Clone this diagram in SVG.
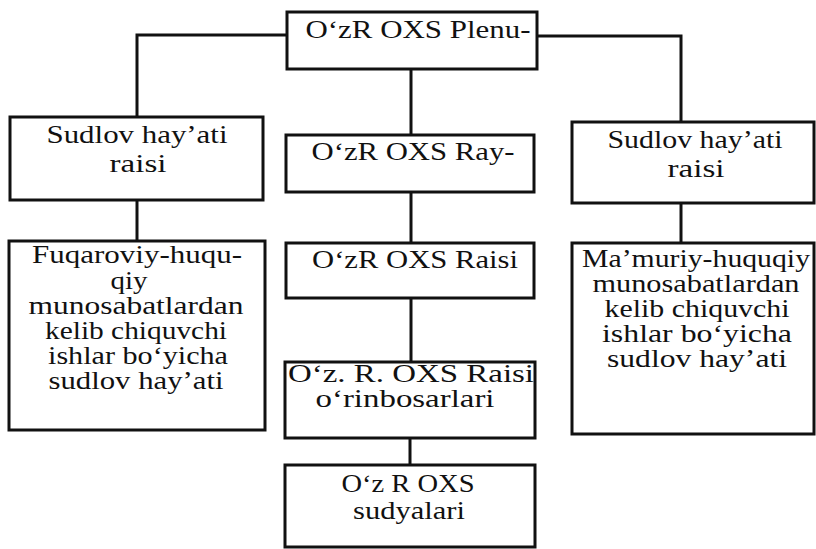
<svg xmlns="http://www.w3.org/2000/svg" width="816" height="549" viewBox="0 0 816 549">
<style>
.box{fill:#fff;stroke:#111;stroke-width:3}
.c{fill:none;stroke:#111;stroke-width:3}
.t{font-family:'Liberation Serif',serif;font-size:25px;fill:#111;text-anchor:middle}
</style>
<rect width="816" height="549" fill="#fff"/>
<g id="connectors">
<polyline class="c" points="287,35 137,35 137,117"/>
<polyline class="c" points="537,36 681,36 681,122"/>
<line class="c" x1="411" y1="69" x2="411" y2="135"/>
<line class="c" x1="411" y1="192" x2="411" y2="243"/>
<line class="c" x1="411" y1="298" x2="411" y2="362"/>
<line class="c" x1="410" y1="438" x2="410" y2="465"/>
<line class="c" x1="137" y1="200" x2="137" y2="241"/>
<line class="c" x1="681" y1="203" x2="681" y2="243"/>
</g>
<g class="t" font-family="Liberation Serif, serif">
<g id="plenum">
<rect class="box" x="287" y="12" width="250" height="57"/>
<text x="418" y="38" textLength="225" lengthAdjust="spacingAndGlyphs">O‘zR OXS Plenu-</text>
</g>
<g id="sudlov-left">
<rect class="box" x="10" y="117" width="253" height="83"/>
<text x="137" y="143" textLength="181" lengthAdjust="spacingAndGlyphs">Sudlov hay’ati</text>
<text x="138" y="172" textLength="57" lengthAdjust="spacingAndGlyphs">raisi</text>
</g>
<g id="rayosat">
<rect class="box" x="286" y="135" width="248" height="57"/>
<text x="413" y="160" textLength="203" lengthAdjust="spacingAndGlyphs">O‘zR OXS Ray-</text>
</g>
<g id="sudlov-right">
<rect class="box" x="572" y="122" width="242" height="81"/>
<text x="695" y="148" textLength="175" lengthAdjust="spacingAndGlyphs">Sudlov hay’ati</text>
<text x="696" y="177" textLength="57" lengthAdjust="spacingAndGlyphs">raisi</text>
</g>
<g id="fuqaroviy">
<rect class="box" x="9" y="241" width="256" height="189"/>
<text x="137" y="263" textLength="210" lengthAdjust="spacingAndGlyphs">Fuqaroviy-huqu-</text>
<text x="129" y="289" textLength="37" lengthAdjust="spacingAndGlyphs">qiy</text>
<text x="136" y="314" textLength="215" lengthAdjust="spacingAndGlyphs">munosabatlardan</text>
<text x="136" y="339" textLength="182" lengthAdjust="spacingAndGlyphs">kelib chiquvchi</text>
<text x="138" y="364" textLength="180" lengthAdjust="spacingAndGlyphs">ishlar bo‘yicha</text>
<text x="136" y="389" textLength="175" lengthAdjust="spacingAndGlyphs">sudlov hay’ati</text>
</g>
<g id="raisi">
<rect class="box" x="286" y="243" width="248" height="55"/>
<text x="415" y="268" textLength="206" lengthAdjust="spacingAndGlyphs">O‘zR OXS Raisi</text>
</g>
<g id="mamuriy">
<rect class="box" x="572" y="243" width="242" height="191"/>
<text x="696" y="267" textLength="228" lengthAdjust="spacingAndGlyphs">Ma’muriy-huquqiy</text>
<text x="696" y="292" textLength="207" lengthAdjust="spacingAndGlyphs">munosabatlardan</text>
<text x="697" y="317" textLength="185" lengthAdjust="spacingAndGlyphs">kelib chiquvchi</text>
<text x="697" y="342" textLength="190" lengthAdjust="spacingAndGlyphs">ishlar bo‘yicha</text>
<text x="697" y="367" textLength="180" lengthAdjust="spacingAndGlyphs">sudlov hay’ati</text>
</g>
<g id="orinbosarlar">
<rect class="box" x="285" y="362" width="250" height="76"/>
<text x="411" y="382" textLength="246" lengthAdjust="spacingAndGlyphs">O‘z. R. OXS Raisi</text>
<text x="405" y="407" textLength="179" lengthAdjust="spacingAndGlyphs">o‘rinbosarlari</text>
</g>
<g id="sudyalar">
<rect class="box" x="285" y="465" width="250" height="82"/>
<text x="408" y="492" textLength="133" lengthAdjust="spacingAndGlyphs">O‘z R OXS</text>
<text x="409" y="519" textLength="112" lengthAdjust="spacingAndGlyphs">sudyalari</text>
</g>
</g>
</svg>
